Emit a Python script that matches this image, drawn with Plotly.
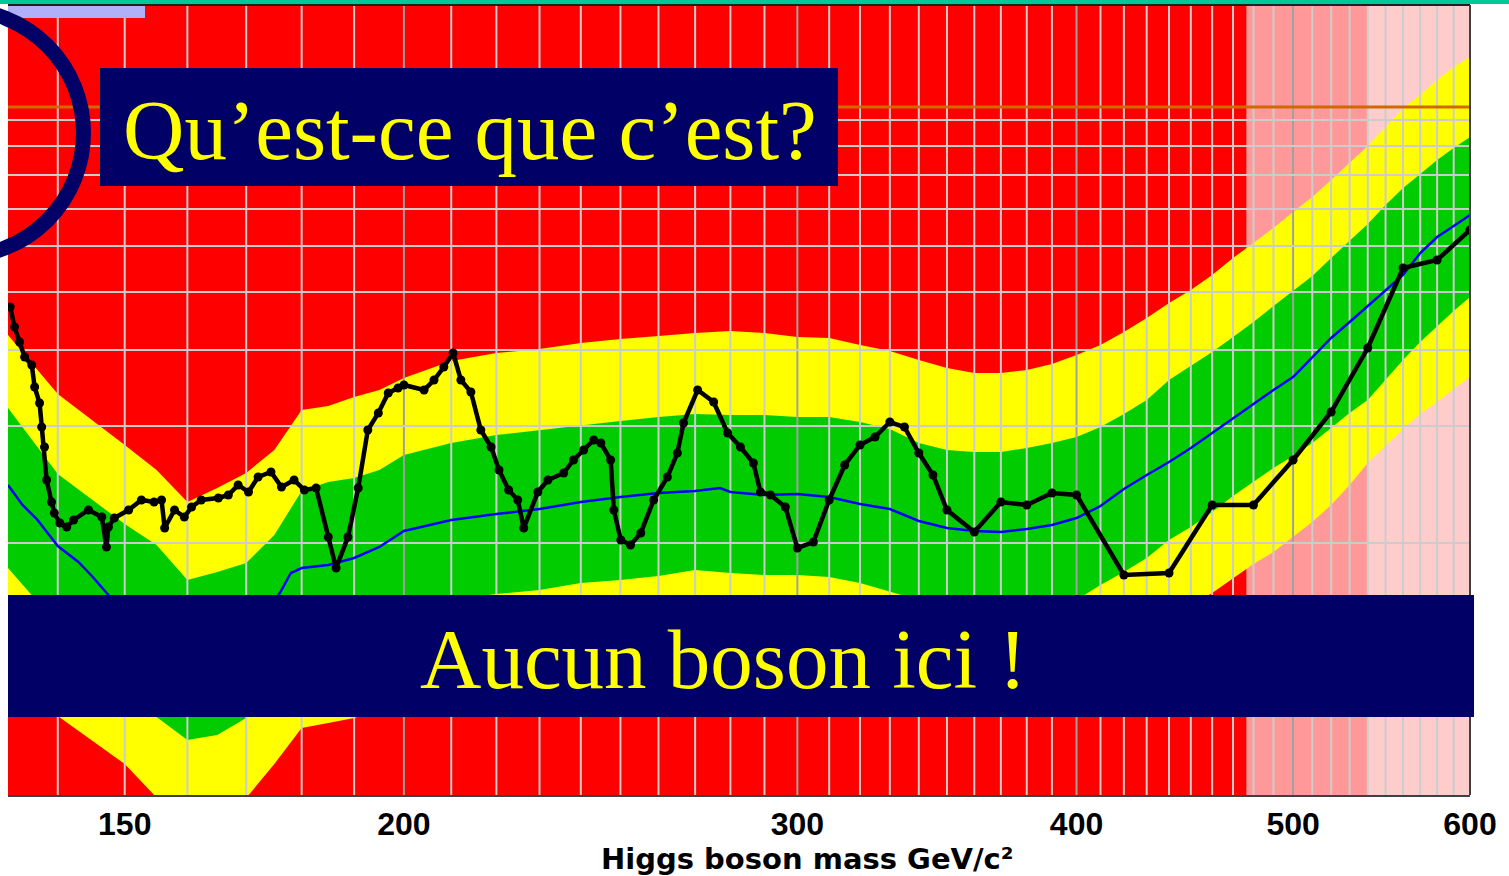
import math
import plotly.graph_objects as go

# ---------------------------------------------------------------------------
# Data: Higgs boson mass (GeV/c^2) and the limit/expectation curves (plot units)
# ---------------------------------------------------------------------------
band_mass = [133, 140, 150, 155, 160, 165, 170, 175, 180, 185, 190, 195,
             200, 210, 220, 230, 240, 250, 260, 270, 280, 290, 300, 310, 320,
             330, 340, 350, 360, 370, 380, 390, 400, 410, 420, 430, 440, 450,
             460, 470, 480, 490, 500, 510, 520, 530, 540, 550, 560, 570, 580,
             590, 600]

# +2 sigma edge of the expectation (top of the yellow band)
yellow_hi = [46.0, 40.1, 35.0, 32.5, 29.3, 30.7, 32.2, 34.5, 38.5, 38.9, 39.8, 40.5,
             41.7, 43.4, 44.2, 44.6, 45.2, 45.6, 45.9, 46.2, 46.4, 46.2, 45.8, 45.7, 45.0,
             44.4, 43.5, 42.7, 42.2, 42.2, 42.5, 43.1, 44.0, 45.0, 46.3, 47.7, 49.2, 50.5,
             52.0, 53.7, 55.2, 56.7, 58.3, 59.8, 61.5, 63.2, 64.9, 66.8, 68.7, 70.0, 71.5,
             72.8, 73.8]
# +1 sigma edge (top of the green band)
green_hi = [38.7, 32.1, 27.1, 25.0, 21.5, 22.3, 23.2, 26.0, 30.4, 31.3, 31.7, 32.5,
            34.0, 35.2, 36.0, 36.5, 37.0, 37.4, 37.8, 38.1, 38.0, 38.0, 37.8, 37.8, 37.3,
            36.6, 35.2, 34.5, 34.3, 34.3, 34.7, 35.2, 35.8, 36.8, 38.1, 39.5, 41.5, 42.9,
            44.3, 45.8, 47.3, 48.9, 50.4, 51.9, 53.7, 55.4, 57.1, 59.0, 60.7, 62.1, 63.5,
            64.7, 65.8]
# -1 sigma edge (bottom of the green band)
green_lo = [22.7, 17.0, 10.5, 7.8, 5.5, 6.0, 7.7, 10.5, 13.5, 15.5, 17.0, 18.0,
            18.7, 19.5, 20.1, 20.5, 21.2, 21.5, 21.9, 22.5, 22.2, 22.0, 22.0, 21.8, 21.2,
            20.3, 19.5, 19.0, 18.7, 18.8, 19.1, 19.1, 19.5, 21.0, 22.3, 23.7, 25.5, 26.8,
            28.3, 29.9, 31.3, 32.7, 33.9, 35.2, 36.7, 38.2, 39.5, 41.5, 43.5, 45.3, 46.9,
            48.4, 49.8]
# -2 sigma edge (bottom of the yellow band)
yellow_lo = [14.5, 7.9, 3.1, -0.2, -3.5, -3.0, -0.3, 3.1, 6.7, 7.2, 7.7, 8.5,
             9.5, 10.5, 11.5, 12.0, 12.5, 12.8, 13.1, 13.5, 13.5, 13.5, 13.5, 13.3, 12.7,
             12.0, 11.2, 10.7, 10.5, 10.5, 10.7, 11.0, 11.5, 12.7, 14.0, 15.5, 17.3, 19.0,
             20.2, 21.7, 23.1, 24.3, 25.8, 27.3, 29.0, 31.0, 33.2, 34.9, 36.6, 38.1, 39.3,
             40.6, 41.8]

# Median expected curve
exp_mass = [133, 135, 137, 140, 143, 145, 147.5, 150, 160, 170, 176, 178, 180, 185,
            190, 195, 200, 210, 220, 230, 240, 250, 260, 270, 277, 280, 290, 300,
            310, 320, 330, 340, 350, 360, 370, 380, 390, 400, 410, 420, 430, 440,
            450, 460, 470, 480, 490, 500, 510, 520, 530, 540, 550, 560, 570, 580,
            590, 600]
exp_val = [31.0, 29.0, 27.6, 24.9, 23.3, 21.9, 20.0, 18.3, 13.5, 15.5, 20.2, 22.2, 22.7,
           23.0, 23.7, 24.8, 26.4, 27.5, 28.1, 28.6, 29.3, 29.8, 30.2, 30.4, 30.7, 30.3,
           30.0, 30.1, 29.8, 29.1, 28.6, 27.4, 26.7, 26.4, 26.3, 26.6, 27.0, 27.7, 28.9,
           30.6, 32.0, 33.3, 34.7, 36.2, 37.7, 39.1, 40.5, 41.8, 43.8, 45.7, 47.3, 48.9,
           50.4, 52.0, 54.2, 55.8, 56.9, 58.0]

# Observed curve (one point per analysed mass hypothesis)
obs_mass = [133.3, 133.9, 134.6, 135.3, 136.3, 136.7, 137.4, 137.7, 138.1, 138.4,
            139.1, 139.5, 140.3, 141.3, 142.3, 144.5, 146.5, 147.2, 147.5, 148.4,
            150.6, 152.6, 154.6, 155.8, 156.3, 157.9, 159.5, 160.7, 162.3, 165.2,
            166.9, 168.6, 170.4, 172.1, 174.4, 176.3, 178.6, 180.5, 182.7, 185.0,
            186.5, 188.8, 190.8, 192.7, 194.8, 196.8, 198.8, 200.0, 204.2, 206.3,
            208.4, 210.4, 212.1, 214.3, 216.5, 218.8, 220.6, 222.8, 224.9, 226.3,
            229.6, 232.0, 235.8, 238.2, 240.7, 243.2, 245.0, 247.5, 248.3, 250.1,
            252.6, 255.3, 258.7, 262.4, 265.1, 266.8, 270.7, 275.2, 279.2, 282.9,
            286.7, 288.8, 291.8, 296.3, 300, 305, 310, 315, 320, 325, 330, 335, 340,
            345, 350, 360, 370, 380, 390, 400, 420, 440, 460, 480, 500, 520, 540,
            560, 580, 600]
obs_val = [48.8, 46.8, 45.3, 43.8, 43.0, 40.8, 39.2, 36.8, 34.8, 31.5,
           29.3, 28.2, 27.2, 26.8, 27.5, 28.5, 27.8, 24.8, 26.8, 27.7,
           28.5, 29.5, 29.3, 29.5, 26.7, 28.5, 27.8, 28.8, 29.5, 29.7,
           30.0, 31.0, 30.3, 31.8, 32.3, 30.8, 31.5, 30.5, 30.7, 25.8,
           22.7, 25.8, 30.7, 36.5, 38.2, 40.2, 40.7, 41.0, 40.5, 41.5,
           42.8, 44.2, 41.5, 40.3, 36.5, 34.8, 32.5, 30.5, 29.5, 26.7,
           30.3, 31.5, 32.2, 33.5, 34.5, 35.5, 35.2, 33.5, 28.5, 25.5,
           25.0, 26.2, 29.5, 31.8, 34.2, 37.2, 40.5, 39.3, 36.2, 34.8,
           33.2, 30.3, 30.0, 28.8, 24.7, 25.3, 29.5, 33.0, 35.0, 35.8, 37.3, 36.8, 34.2,
           32.0, 28.5, 26.3, 29.3, 29.0, 30.2, 30.0, 22.0, 22.2, 29.0, 29.0, 33.5, 38.3, 44.7,
           52.7, 53.5, 56.5]

# Reference level and grid
sm_level = 68.8
grid_levels = [67.5, 64.9, 62.0, 58.6, 54.9, 50.3, 44.5, 36.9, 25.2]
grid_mass = list(range(140, 600, 10))
major_mass = [200, 300, 400, 500]

# Mass windows shaded in pink (reduced sensitivity)
pink_start, light_pink_start = 476.5, 540

tick_vals = [150, 200, 300, 400, 500, 600]
tick_text = ["150", "200", "300", "400", "500", "600"]

m_min, m_max = 133, 600
y_min, y_max = 0, 79

RED, YELLOW, GREEN = "#FF0000", "#FFFF00", "#00CC00"
NAVY = "#000066"

fig = go.Figure()

# pink / light-pink background windows
for x0, x1, col in [(pink_start, light_pink_start, "#FF9999"),
                    (light_pink_start, m_max, "#FFCCCC")]:
    fig.add_trace(go.Scatter(x=[x0, x1, x1, x0, x0], y=[y_min, y_min, y_max, y_max, y_min],
                             mode="lines", fill="toself", fillcolor=col,
                             line=dict(width=0), hoverinfo="skip"))

# yellow (+-2 sigma) band
fig.add_trace(go.Scatter(x=band_mass, y=yellow_lo, mode="lines",
                         line=dict(width=0, color=YELLOW), hoverinfo="skip"))
fig.add_trace(go.Scatter(x=band_mass, y=yellow_hi, mode="lines", fill="tonexty",
                         fillcolor=YELLOW, line=dict(width=0, color=YELLOW), hoverinfo="skip"))
# green (+-1 sigma) band
fig.add_trace(go.Scatter(x=band_mass, y=green_lo, mode="lines",
                         line=dict(width=0, color=GREEN), hoverinfo="skip"))
fig.add_trace(go.Scatter(x=band_mass, y=green_hi, mode="lines", fill="tonexty",
                         fillcolor=GREEN, line=dict(width=0, color=GREEN), hoverinfo="skip"))

# grid drawn over the bands
def vlines(masses):
    xs, ys = [], []
    for m in masses:
        xs += [m, m, None]
        ys += [y_min, y_max, None]
    return xs, ys

gx, gy = vlines([m for m in grid_mass if m not in major_mass])
fig.add_trace(go.Scatter(x=gx, y=gy, mode="lines", line=dict(color="#CCCCCC", width=2),
                         hoverinfo="skip"))
gx, gy = vlines(major_mass)
fig.add_trace(go.Scatter(x=gx, y=gy, mode="lines", line=dict(color="#A0A0A0", width=2),
                         hoverinfo="skip"))
hx, hy = [], []
for v in grid_levels:
    hx += [m_min, m_max, None]
    hy += [v, v, None]
fig.add_trace(go.Scatter(x=hx, y=hy, mode="lines", line=dict(color="#CCCCCC", width=2),
                         hoverinfo="skip"))

# reference level
fig.add_trace(go.Scatter(x=[m_min, m_max], y=[sm_level, sm_level], mode="lines",
                         line=dict(color="#D06A00", width=3), hoverinfo="skip"))

# expected and observed curves
fig.add_trace(go.Scatter(x=exp_mass, y=exp_val, mode="lines",
                         line=dict(color="#0000FF", width=2.5)))
fig.add_trace(go.Scatter(x=obs_mass, y=obs_val, mode="lines+markers",
                         line=dict(color="black", width=4.5),
                         marker=dict(color="black", size=9)))

# --- overlay frame (pixel frame of the plotting area) ---
W_FIG, H_FIG = 1509, 876
L, R, T, B = 8, 1470, 5, 795


def fx(p):
    return (p - L) / (R - L)


def fy(p):
    return (B - p) / (B - T)


shapes = [
    # teal strip along the top of the page
    dict(type="rect", xref="paper", yref="paper", x0=fx(0), x1=fx(W_FIG), y0=fy(0), y1=fy(4),
         fillcolor="#00C896", line=dict(width=0), layer="above"),
    # frame lines
    dict(type="line", xref="paper", yref="paper", x0=0, x1=1, y0=1, y1=1,
         line=dict(color="#202020", width=2), layer="above"),
    dict(type="line", xref="paper", yref="paper", x0=1, x1=1, y0=0, y1=1,
         line=dict(color="#404040", width=2), layer="above"),
    # small lavender tab
    dict(type="rect", xref="paper", yref="paper", x0=fx(8), x1=fx(145), y0=fy(18), y1=fy(6),
         fillcolor="#B0B0F8", line=dict(width=0), layer="above"),
    # navy ring
    dict(type="circle", xref="paper", yref="paper",
         x0=fx(-40 - 123.5), x1=fx(-40 + 123.5), y0=fy(133 + 123.5), y1=fy(133 - 123.5),
         line=dict(color=NAVY, width=15), fillcolor="rgba(0,0,0,0)", layer="above"),
    # caption boxes
    dict(type="rect", xref="paper", yref="paper", x0=fx(100), x1=fx(838), y0=fy(186), y1=fy(68),
         fillcolor=NAVY, line=dict(width=0), layer="above"),
    dict(type="rect", xref="paper", yref="paper", x0=fx(8), x1=fx(1474), y0=fy(717), y1=fy(595),
         fillcolor=NAVY, line=dict(width=0), layer="above"),
]

annotations = [
    dict(text="Qu’est-ce que c’est?", xref="paper", yref="paper", x=fx(470), y=fy(130),
         xanchor="center", yanchor="middle", showarrow=False,
         font=dict(family="Liberation Serif", size=85, color="#FFFF00")),
    dict(text="Aucun boson ici !", xref="paper", yref="paper", x=fx(723), y=fy(659),
         xanchor="center", yanchor="middle", showarrow=False,
         font=dict(family="Liberation Serif", size=85, color="#FFFF00")),
    dict(text="Higgs boson mass GeV/c²", xref="paper", yref="paper", x=fx(807), y=fy(859),
         xanchor="center", yanchor="middle", showarrow=False,
         font=dict(family="DejaVu Sans", size=29, color="black", weight="bold")),
]

fig.update_layout(
    width=W_FIG, height=H_FIG,
    margin=dict(l=L, r=W_FIG - R, t=T, b=H_FIG - B, pad=0),
    paper_bgcolor="white", plot_bgcolor=RED,
    showlegend=False,
    shapes=shapes, annotations=annotations,
    xaxis=dict(type="log", range=[math.log10(m_min), math.log10(m_max)],
               showgrid=False, zeroline=False, showline=True, linecolor="#404040", linewidth=2,
               ticks="", tickvals=tick_vals, ticktext=tick_text, ticklabelstandoff=0,
               tickfont=dict(family="Liberation Sans", size=32, color="black", weight="bold"),
               fixedrange=True),
    yaxis=dict(range=[y_min, y_max], showgrid=False, zeroline=False, showticklabels=False,
               showline=False, fixedrange=True),
)

fig.write_html("out.html")
